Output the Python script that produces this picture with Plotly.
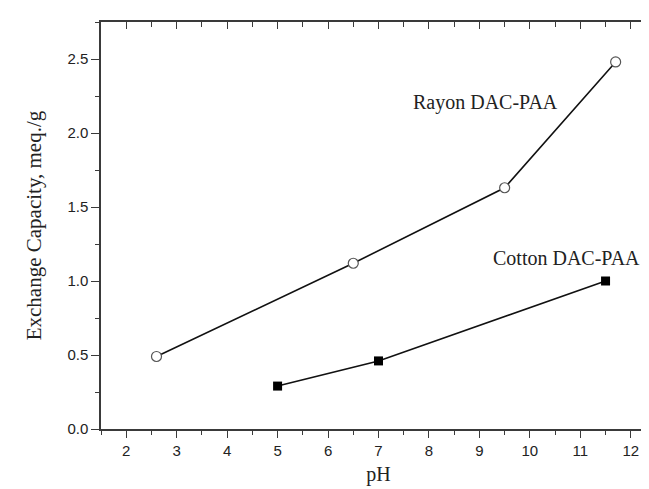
import plotly.graph_objects as go

# Data
rayon_ph = [2.6, 6.5, 9.5, 11.7]
rayon_cap = [0.49, 1.12, 1.63, 2.48]
cotton_ph = [5.0, 7.0, 11.5]
cotton_cap = [0.29, 0.46, 1.0]

x_title = "pH"
y_title = "Exchange Capacity, meq./g"
rayon_label = "Rayon DAC-PAA"
cotton_label = "Cotton DAC-PAA"

serif = "Liberation Serif, Times New Roman, serif"
sans = "Liberation Sans, Arial, sans-serif"
axcol = "#3a3a3a"

fig = go.Figure()
fig.add_trace(go.Scatter(
    x=rayon_ph, y=rayon_cap, mode="lines+markers", name=rayon_label,
    line=dict(color="#111111", width=1.6),
    marker=dict(symbol="circle", size=10, color="white",
                line=dict(color="#555555", width=1.2)),
    showlegend=False))
fig.add_trace(go.Scatter(
    x=cotton_ph, y=cotton_cap, mode="lines+markers", name=cotton_label,
    line=dict(color="#111111", width=1.6),
    marker=dict(symbol="square", size=9, color="black",
                line=dict(color="black", width=0)),
    showlegend=False))
# invisible trace to activate the mirrored (top/right) frame axes
fig.add_trace(go.Scatter(
    x=cotton_ph, y=cotton_cap, xaxis="x2", yaxis="y2", mode="markers",
    marker=dict(opacity=0), hoverinfo="skip", showlegend=False))

fig.add_annotation(x=9.13, y=2.205, xref="x", yref="y", text=rayon_label,
                   showarrow=False, font=dict(family=serif, size=20, color="#222"))
fig.add_annotation(x=10.73, y=1.153, xref="x", yref="y", text=cotton_label,
                   showarrow=False, font=dict(family=serif, size=20, color="#222"))

common = dict(showgrid=False, zeroline=False, showline=True,
              linecolor=axcol, linewidth=1.5, tickcolor=axcol, tickwidth=1.3)

fig.update_layout(
    width=649, height=489,
    margin=dict(l=93, r=1, t=14, b=68),
    paper_bgcolor="white", plot_bgcolor="white",
    xaxis=dict(range=[1.5, 12.5], tick0=0, dtick=1, ticks="outside", ticklen=7,
               minor=dict(ticks="outside", ticklen=4, dtick=0.5, tickcolor=axcol, tickwidth=1.3),
               tickfont=dict(family=sans, size=15, color="#222"),
               title=dict(text=x_title, font=dict(family=serif, size=20, color="#222"), standoff=9),
               **common),
    yaxis=dict(range=[0, 2.75], tick0=0, dtick=0.5, tickformat=".1f", ticks="outside", ticklen=8,
               minor=dict(ticks="outside", ticklen=4, dtick=0.25, tickcolor=axcol, tickwidth=1.3),
               tickfont=dict(family=sans, size=15, color="#222"),
               title=dict(text=y_title, font=dict(family=serif, size=21, color="#222"), standoff=20),
               **common),
    xaxis2=dict(range=[1.5, 12.5], overlaying="x", side="top", tick0=0, dtick=1,
                ticks="inside", ticklen=7, showticklabels=False,
                minor=dict(ticks="inside", ticklen=5, dtick=0.5, tickcolor=axcol, tickwidth=1.3),
                **common),
    yaxis2=dict(range=[0, 2.75], overlaying="y", side="right", tick0=0, dtick=0.5,
                ticks="inside", ticklen=7, showticklabels=False,
                minor=dict(ticks="inside", ticklen=5, dtick=0.25, tickcolor=axcol, tickwidth=1.3),
                **common),
)

fig.write_html("out.html")
